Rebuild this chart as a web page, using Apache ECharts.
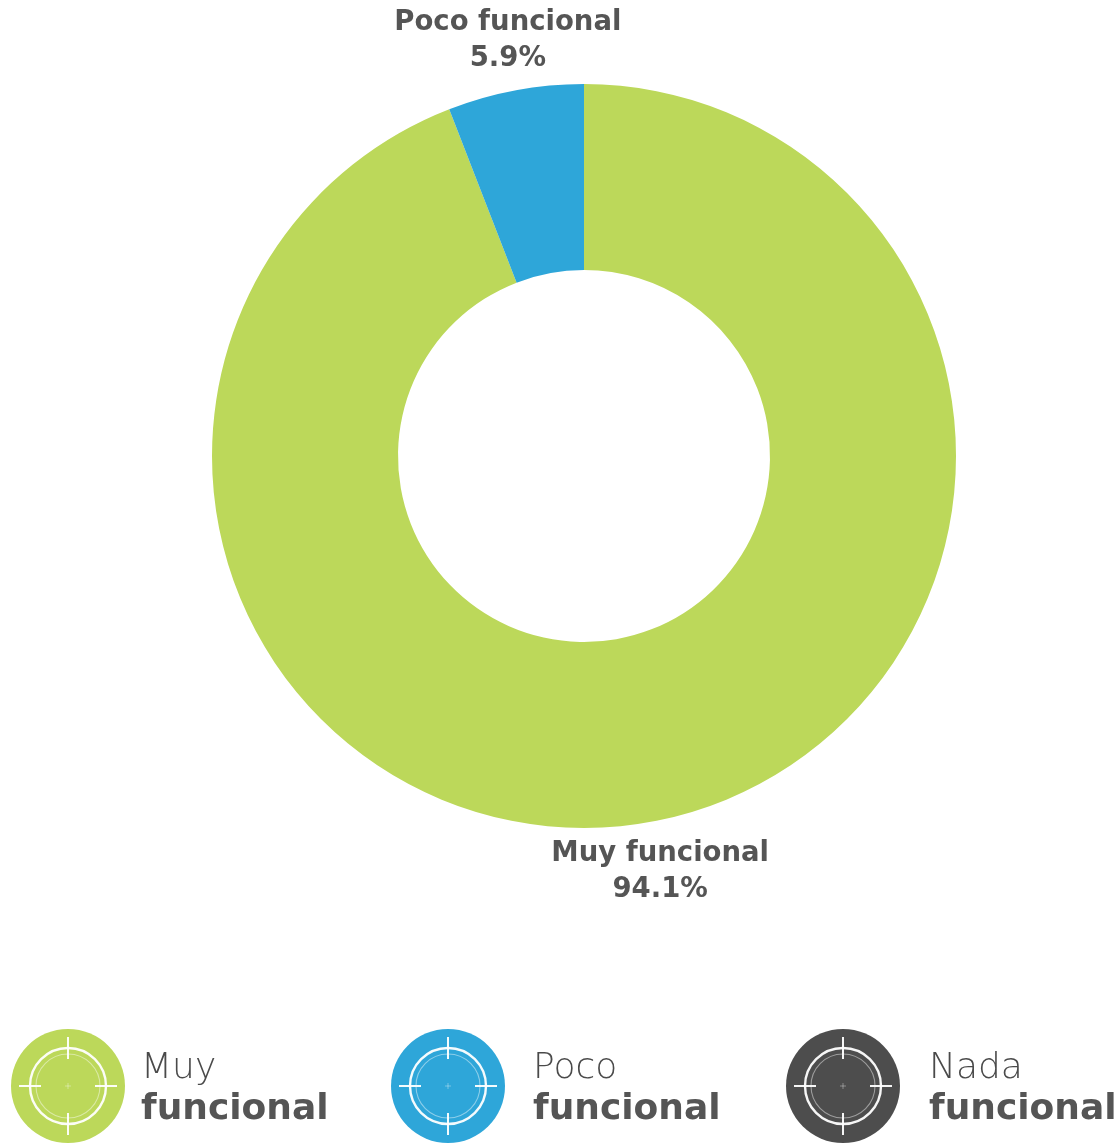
<!DOCTYPE html>
<html>
<head>
<meta charset="utf-8">
<script src="https://cdn.jsdelivr.net/npm/echarts@6/dist/echarts.min.js"></script>
<style>html,body{margin:0;padding:0;background:#fff;}#c{width:1120px;height:1144px;}</style>
</head>
<body>
<div id="c"></div>
<script>
const categories = ['Muy funcional', 'Poco funcional', 'Nada funcional'];
const values = [94.1, 5.9, 0];
const colors = ['#BCD85A', '#2EA6D9', '#4D4D4D'];

function iconFor(color) {
  const svg = '<svg xmlns="http://www.w3.org/2000/svg" width="114" height="114" viewBox="-57 -57 114 114">' +
    '<circle r="57" fill="' + color + '"/>' +
    '<circle r="38" fill="none" stroke="#fff" stroke-opacity="0.95" stroke-width="2.4"/>' +
    '<circle r="32" fill="none" stroke="#fff" stroke-opacity="0.45" stroke-width="1.1"/>' +
    '<path d="M-49 0H-27M27 0H49M0 -49V-27M0 27V49" stroke="#fff" stroke-opacity="0.95" stroke-width="2"/>' +
    '<path d="M-3 0H3M0 -3V3" stroke="#fff" stroke-opacity="0.45" stroke-width="0.8"/>' +
    '</svg>';
  return 'image://data:image/svg+xml;charset=utf-8,' + encodeURIComponent(svg);
}

const chart = echarts.init(document.getElementById('c'), null, {renderer: 'canvas'});
const legendLefts = [11, 391, 786];
const legendTextPads = [11, 23, 24];
const legends = categories.map((name, i) => ({
  left: legendLefts[i],
  top: 1029,
  orient: 'horizontal',
  selectedMode: false,
  itemWidth: 114,
  itemHeight: 114,
  itemGap: 0,
  padding: 0,
  data: [{name: name, icon: iconFor(colors[i])}],
  formatter: function (n) {
    const parts = n.split(' ');
    return '{a|' + parts[0] + '}\n{b|' + parts.slice(1).join(' ') + '}';
  },
  textStyle: {
    padding: [6, 0, 0, legendTextPads[i]],
    rich: {
      a: {fontFamily: 'DejaVu Sans', fontWeight: 200, fontSize: 36, color: '#4a4a4a', lineHeight: 41},
      b: {fontFamily: 'DejaVu Sans', fontWeight: 'bold', fontSize: 36, color: '#555', lineHeight: 41}
    }
  }
}));

chart.setOption({
  animation: false,
  color: colors,
  legend: legends,
  series: [{
    type: 'pie',
    center: [584, 456],
    radius: [186, 372],
    startAngle: 90,
    clockwise: true,
    silent: true,
    stillShowZeroSum: true,
    data: categories.map((name, i) => ({
      name: name,
      value: values[i],
      label: {show: values[i] > 0}
    })),
    label: {
      position: 'outside',
      formatter: function (p) { return p.name + '\n' + p.value.toFixed(1) + '%'; },
      fontFamily: 'DejaVu Sans',
      fontWeight: 'bold',
      fontSize: 27.5,
      lineHeight: 36,
      color: '#555'
    },
    labelLine: {show: false, length: 14, length2: 0},
    labelLayout: function (p) {
      return {align: 'center', verticalAlign: p.dataIndex === 0 ? 'top' : 'bottom'};
    }
  }]
});
</script>
</body>
</html>
